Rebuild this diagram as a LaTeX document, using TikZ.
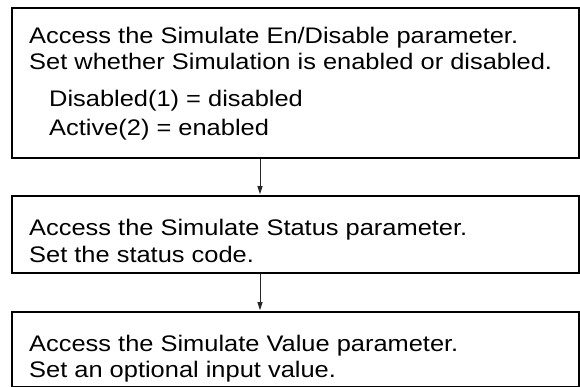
\documentclass[tikz,border=0pt]{standalone}
\usepackage{fontspec}
\setmainfont{Liberation Sans}[FakeStretch=1.13]
\usetikzlibrary{arrows.meta}

\tikzset{
  stepbox/.style={draw=black, line width=1.6pt, fill=white, rectangle,
                  minimum width=567pt, inner sep=0pt, anchor=north west},
  txt/.style={inner sep=0pt, anchor=base west, font=\fontsize{22.5}{27}\selectfont},
  flow/.style={draw=black!85, line width=0.9pt,
               -{Triangle[length=8pt,width=5pt]}, shorten >=0.8pt},
}

\begin{document}
\begin{tikzpicture}[x=1pt, y=-1pt]
  \useasboundingbox (0,0) rectangle (580,387);

  % the three step boxes
  \node[stepbox, minimum height=149.5pt] (b1) at (11,7.5) {};
  \node[stepbox, minimum height=77pt]    (b2) at (11,195) {};
  \node[stepbox, minimum height=75pt]    (b3) at (11,311) {};

  % text of the first step
  \node[txt] (t11) at (29,44)  {Access the Simulate En/Disable parameter.};
  \node[txt] (t12) at (29,70)  {Set whether Simulation is enabled or disabled.};
  \node[txt] (t13) at (49,107) {Disabled(1) = disabled};
  \node[txt] (t14) at (49,136) {Active(2) = enabled};

  % text of the second step
  \node[txt] (t21) at (29,236) {Access the Simulate Status parameter.};
  \node[txt] (t22) at (29,262) {Set the status code.};

  % text of the third step
  \node[txt] (t31) at (29,351) {Access the Simulate Value parameter.};
  \node[txt] (t32) at (29,377) {Set an optional input value.};

  % connectors between the steps
  \draw[flow] ([xshift=249pt]b1.south west) -- ([xshift=249pt]b2.north west);
  \draw[flow] ([xshift=249pt]b2.south west) -- ([xshift=249pt]b3.north west);
\end{tikzpicture}
\end{document}
